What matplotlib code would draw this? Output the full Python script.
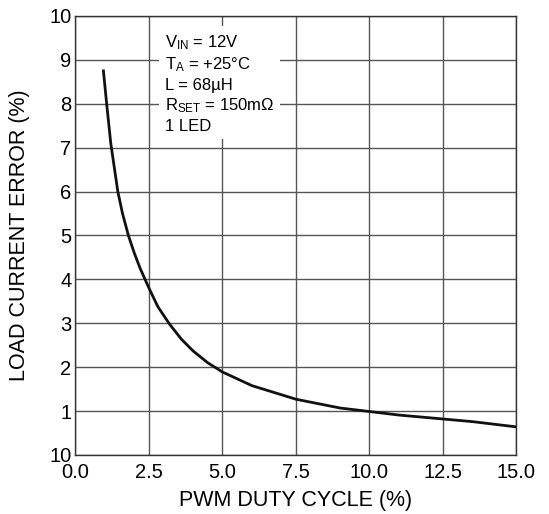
import numpy as np
import matplotlib.pyplot as plt

plt.rcParams['font.family'] = ['Liberation Sans', 'DejaVu Sans']

# data
duty = [0.95, 1.06, 1.2, 1.44, 1.6, 1.8, 2.0, 2.2, 2.5, 2.8, 3.2, 3.6, 4.0, 4.5, 5.0,
        6.0, 7.5, 9.0, 10.0, 11.0, 12.5, 13.5, 15.0]
error = [8.75, 8.0, 7.1, 6.0, 5.5, 5.0, 4.6, 4.25, 3.8, 3.38, 2.98, 2.64, 2.37, 2.1, 1.89,
         1.58, 1.27, 1.07, 0.99, 0.91, 0.82, 0.76, 0.64]

xticks = [0.0, 2.5, 5.0, 7.5, 10.0, 12.5, 15.0]
xtick_labels = ['0.0', '2.5', '5.0', '7.5', '10.0', '12.5', '15.0']
yticks = list(range(0, 11))
ytick_labels = ['10', '1', '2', '3', '4', '5', '6', '7', '8', '9', '10']

fig = plt.figure(figsize=(5.49, 5.14), dpi=100)
ax = fig.add_axes([0.1375, 0.1148, 0.8033, 0.8541])

ax.plot(duty, error, color='#111111', linewidth=2.0, zorder=3)

ax.set_xlim(0, 15)
ax.set_ylim(0, 10)
ax.set_xticks(xticks)
ax.set_xticklabels(xtick_labels)
ax.set_yticks(yticks)
ax.set_yticklabels(ytick_labels)
ax.tick_params(length=0, labelsize=14.5)
ax.tick_params(axis='x', pad=6)
ax.tick_params(axis='y', pad=3)
ax.grid(True, color='#555555', linewidth=1.0)
for s in ax.spines.values():
    s.set_color('#333333')
    s.set_linewidth(1.0)

ax.set_xlabel('PWM DUTY CYCLE (%)', fontsize=15.5)
ax.set_ylabel('LOAD CURRENT ERROR (%)', fontsize=15.5)
ax.xaxis.set_label_coords(0.5, -0.079)
ax.yaxis.set_label_coords(-0.103, 0.5)

note = ('$\\mathregular{V_{IN}}$ = 12V\n'
        '$\\mathregular{T_{A}}$ = +25°C\n'
        'L = 68µH\n'
        '$\\mathregular{R_{SET}}$ = 150mΩ\n'
        '1 LED')
ax.text(3.04, 9.61, note, fontsize=12, va='top', ha='left', linespacing=1.28,
        bbox=dict(facecolor='white', edgecolor='none', pad=4), zorder=4)

fig.savefig('out.png', dpi=100)
